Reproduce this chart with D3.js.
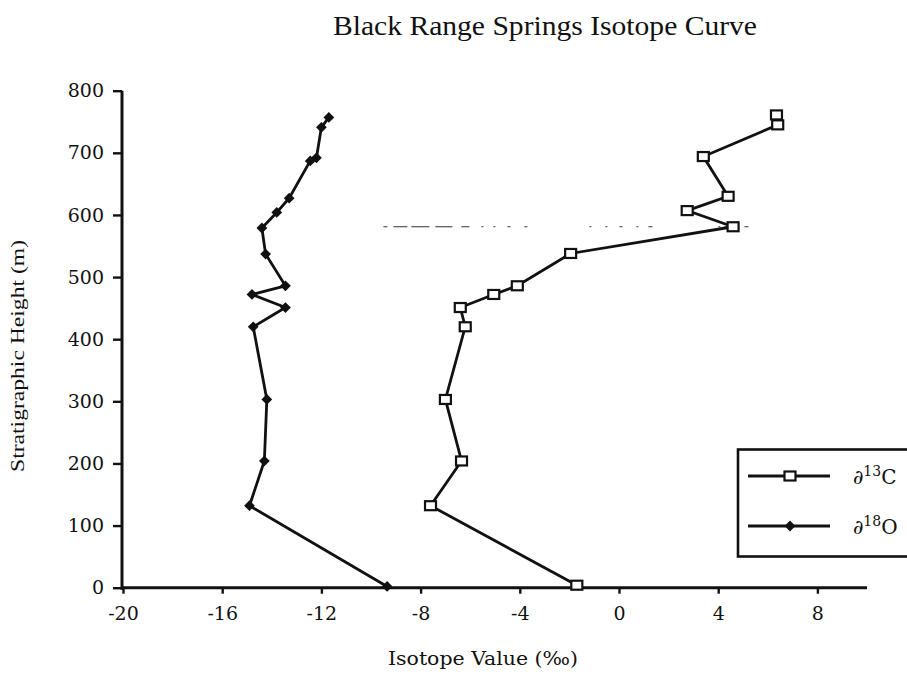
<!DOCTYPE html>
<html>
<head>
<meta charset="utf-8">
<script src="https://cdn.jsdelivr.net/npm/d3@7"></script>
<style>
  body { margin: 0; background: #fff; }
  svg { display: block; }
</style>
</head>
<body>
<script>
// Chart data
const heights18O = [757, 741, 692, 687, 627, 604, 579, 537, 486, 472, 451, 420, 303, 204, 132, 2];
const values18O  = [-11.7, -12.0, -12.2, -12.45, -13.3, -13.8, -14.4, -14.25, -13.45, -14.8, -13.45, -14.75, -14.2, -14.3, -14.9, -9.35];

const heights13C = [761, 745, 694, 630, 607, 581, 538, 486, 472, 451, 420, 303, 204, 132, 4];
const values13C  = [6.35, 6.4, 3.4, 4.4, 2.75, 4.6, -1.95, -4.1, -5.05, -6.4, -6.2, -7.0, -6.35, -7.6, -1.7];

const xTicks = [-20, -16, -12, -8, -4, 0, 4, 8];
const yTicks = [0, 100, 200, 300, 400, 500, 600, 700, 800];

// faint dashed boundary line visible on the scan
const boundaryHeight = 581;
const boundaryExtent = [-9.5, 5.6];

const width = 907, height = 684;

const svg = d3.select("body").append("svg")
  .attr("width", width)
  .attr("height", height);

const x = d3.scaleLinear().domain([-20, 10]).range([123, 867]);
const y = d3.scaleLinear().domain([0, 800]).range([587.7, 90.7]);

const serif = "'DejaVu Serif', serif";
const times = "'Liberation Serif', 'Times New Roman', serif";

// Title
svg.append("text")
  .attr("x", 545)
  .attr("y", 35)
  .attr("text-anchor", "middle")
  .attr("font-family", times)
  .attr("font-size", 27)
  .attr("textLength", 424)
  .attr("lengthAdjust", "spacingAndGlyphs")
  .attr("fill", "#111")
  .text("Black Range Springs Isotope Curve");

// Axes
const yAxis = svg.append("g")
  .attr("transform", `translate(${x(-20) - 1},0)`)
  .call(d3.axisLeft(y).tickValues(yTicks).tickFormat(d => String(d))
    .tickSize(9).tickSizeOuter(0).tickPadding(9));

const xAxis = svg.append("g")
  .attr("transform", `translate(0,${y(0)})`)
  .call(d3.axisBottom(x).tickValues(xTicks).tickFormat(d => String(d))
    .tickSize(6).tickSizeOuter(0).tickPadding(13));

[xAxis, yAxis].forEach(ax => {
  ax.select(".domain").attr("stroke", "#111").attr("stroke-width", 3);
  ax.selectAll(".tick line").attr("stroke", "#111").attr("stroke-width", 2.4);
  ax.selectAll(".tick text")
    .attr("font-family", serif)
    .attr("font-size", 19)
    .attr("fill", "#111");
});
xAxis.select(".domain").attr("d", `M${x(-20) - 2},0H${x(10)}`);
yAxis.select(".domain").attr("d", `M0,${y(0) + 2}V${y(800)}`);

// Axis titles
svg.append("text")
  .attr("x", 483)
  .attr("y", 665)
  .attr("text-anchor", "middle")
  .attr("font-family", serif)
  .attr("font-size", 19)
  .attr("textLength", 190)
  .attr("lengthAdjust", "spacingAndGlyphs")
  .attr("fill", "#111")
  .text("Isotope Value (‰)");

svg.append("text")
  .attr("transform", "translate(24,356) rotate(-90)")
  .attr("text-anchor", "middle")
  .attr("font-family", times)
  .attr("font-size", 19)
  .attr("textLength", 232)
  .attr("lengthAdjust", "spacingAndGlyphs")
  .attr("fill", "#111")
  .text("Stratigraphic Height (m)");

// Boundary line (sparse, broken dashes as on the scan)
svg.append("line")
  .attr("x1", x(boundaryExtent[0]))
  .attr("x2", x(boundaryExtent[1]))
  .attr("y1", y(boundaryHeight))
  .attr("y2", y(boundaryHeight))
  .attr("stroke", "#333")
  .attr("stroke-width", 1.2)
  .attr("stroke-dasharray", "4,6,14,4,18,6,17,9,8,12,2,10,2,12,3,14,3,62,2,14,2,12,3,14,2,10,4,66,2");

const line = d3.line()
  .x(d => x(d[0]))
  .y(d => y(d[1]));

const pts18O = values18O.map((v, i) => [v, heights18O[i]]);
const pts13C = values13C.map((v, i) => [v, heights13C[i]]);

// Oxygen series (filled diamonds)
svg.append("path")
  .datum(pts18O)
  .attr("d", line)
  .attr("fill", "none")
  .attr("stroke", "#111")
  .attr("stroke-width", 2.8);

const diamond = d3.symbol().type(d3.symbolSquare).size(58);
svg.append("g")
  .selectAll("path")
  .data(pts18O)
  .join("path")
  .attr("d", diamond)
  .attr("transform", d => `translate(${x(d[0])},${y(d[1])}) rotate(45)`)
  .attr("fill", "#111");

// Carbon series (open squares)
svg.append("path")
  .datum(pts13C)
  .attr("d", line)
  .attr("fill", "none")
  .attr("stroke", "#111")
  .attr("stroke-width", 2.8);

svg.append("g")
  .selectAll("rect")
  .data(pts13C)
  .join("rect")
  .attr("x", d => x(d[0]) - 5.5)
  .attr("y", d => y(d[1]) - 4.5)
  .attr("width", 11)
  .attr("height", 9)
  .attr("fill", "#fff")
  .attr("stroke", "#111")
  .attr("stroke-width", 2.2);

// Legend
const legend = svg.append("g");
legend.append("rect")
  .attr("x", 738)
  .attr("y", 449.5)
  .attr("width", 180)
  .attr("height", 107)
  .attr("fill", "#fff")
  .attr("stroke", "#111")
  .attr("stroke-width", 2.6);

const legendRows = [
  { y: 476, iso: "13", el: "C", marker: "square" },
  { y: 526, iso: "18", el: "O", marker: "diamond" }
];

legendRows.forEach(r => {
  legend.append("line")
    .attr("x1", 748).attr("x2", 830)
    .attr("y1", r.y).attr("y2", r.y)
    .attr("stroke", "#111")
    .attr("stroke-width", 2.8);
  if (r.marker === "square") {
    legend.append("rect")
      .attr("x", 784.5).attr("y", r.y - 4.5)
      .attr("width", 11).attr("height", 9)
      .attr("fill", "#fff").attr("stroke", "#111").attr("stroke-width", 2.2);
  } else {
    legend.append("path")
      .attr("d", diamond)
      .attr("transform", `translate(790,${r.y}) rotate(45)`)
      .attr("fill", "#111");
  }
  const t = legend.append("text")
    .attr("x", 853)
    .attr("y", r.y + 8)
    .attr("font-family", serif)
    .attr("font-size", 20)
    .attr("fill", "#111");
  t.append("tspan").text("∂");
  t.append("tspan").attr("font-size", 14).attr("dy", -8).text(r.iso);
  t.append("tspan").attr("dy", 8).text(r.el);
});
</script>
</body>
</html>
